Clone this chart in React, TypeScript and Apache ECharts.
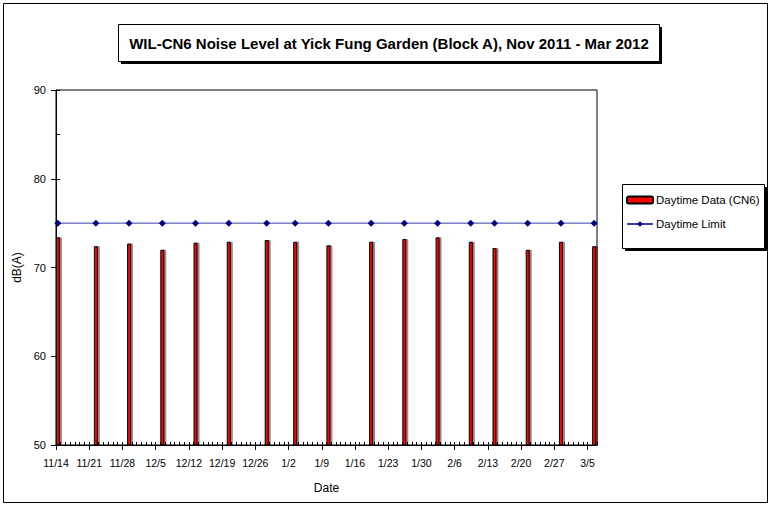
import React, { useEffect, useRef } from "react";
import * as echarts from "echarts";

const chartTitle = "WIL-CN6 Noise Level at Yick Fung Garden (Block A), Nov 2011 - Mar 2012";
const axisStartDate = "2011-11-14";
const axisEndDate = "2012-03-07";
const sampleDates = [
  "2011-11-14", "2011-11-22", "2011-11-29", "2011-12-06", "2011-12-13", "2011-12-20",
  "2011-12-28", "2012-01-03", "2012-01-10", "2012-01-19", "2012-01-26", "2012-02-02",
  "2012-02-09", "2012-02-14", "2012-02-21", "2012-02-28", "2012-03-06",
];
const daytimeData = [
  73.4, 72.4, 72.7, 72.0, 72.8, 72.9, 73.1, 72.9, 72.5, 72.9, 73.2, 73.4, 72.9, 72.2, 72.0, 72.9, 72.4,
];
const daytimeLimit = [75, 75, 75, 75, 75, 75, 75, 75, 75, 75, 75, 75, 75, 75, 75, 75, 75];
const yMin = 50;
const yMax = 90;
const yStep = 10;
const seriesNames = ["Daytime Data (CN6)", "Daytime Limit"];

const FONT = "'Liberation Sans', Arial, sans-serif";
const DAY = 86400000;
const startMs = Date.parse(axisStartDate + "T00:00:00Z");
const toDay = (d: string) => (Date.parse(d + "T00:00:00Z") - startMs) / DAY;
const fmtDay = (v: number) => {
  const t = new Date(startMs + v * DAY);
  return `${t.getUTCMonth() + 1}/${t.getUTCDate()}`;
};
const totalDays = toDay(axisEndDate);
const slotOffset = 0.4;

export default function App() {
  const ref = useRef<HTMLDivElement>(null);
  useEffect(() => {
    if (!ref.current) return;
    const chart = echarts.init(ref.current, null, { renderer: "svg" });
    const barData = sampleDates.map((d, i) => [toDay(d) + slotOffset, daytimeData[i]]);
    const limitData = sampleDates.map((d, i) => [toDay(d) + slotOffset, daytimeLimit[i]]);
    chart.setOption({
      animation: false,
      backgroundColor: "#ffffff",
      textStyle: { fontFamily: FONT, color: "#000" },
      grid: {
        left: 56, top: 90, right: 174, bottom: 63,
        show: true, borderColor: "#000", borderWidth: 1, backgroundColor: "transparent",
      },
      xAxis: [
        {
          type: "value", min: 0, max: totalDays, interval: 7,
          axisLine: { lineStyle: { color: "#000", width: 1 } },
          axisTick: { length: 5, lineStyle: { color: "#000" } },
          axisLabel: { formatter: fmtDay, color: "#000", fontSize: 10.5, margin: 12, fontFamily: FONT, showMaxLabel: false },
          splitLine: { show: false },
          name: "Date", nameLocation: "middle", nameGap: 37,
          nameTextStyle: { color: "#000", fontSize: 12, fontFamily: FONT },
        },
        {
          type: "value", min: 0, max: totalDays, interval: 1, position: "bottom",
          axisLine: { show: false },
          axisTick: { inside: true, length: 3, lineStyle: { color: "#000" } },
          axisLabel: { show: false },
          splitLine: { show: false },
        },
      ],
      yAxis: [
        {
          type: "value", min: yMin, max: yMax, interval: yStep,
          axisLine: { show: true, lineStyle: { color: "#000", width: 1 } },
          axisTick: { show: true, length: 5, lineStyle: { color: "#000" } },
          axisLabel: { color: "#000", fontSize: 11, margin: 10, fontFamily: FONT },
          splitLine: { show: false },
          name: "dB(A)", nameLocation: "middle", nameGap: 30, nameRotate: 90,
          nameTextStyle: { color: "#000", fontSize: 12, fontFamily: FONT },
        },
        {
          type: "value", min: yMin, max: yMax, interval: yStep / 2, position: "left",
          axisLine: { show: false },
          axisTick: { show: true, inside: true, length: 4, lineStyle: { color: "#000" } },
          axisLabel: { show: false },
          splitLine: { show: false },
        },
      ],
      legend: {
        data: seriesNames,
        orient: "vertical",
        left: 622, top: 184,
        padding: [10, 0, 18, 4],
        itemWidth: 26, itemHeight: 7, itemGap: 12,
        textStyle: { color: "#000", fontSize: 11.5, fontFamily: FONT, padding: [0, 0, 0, -2] },
      },
      graphic: [
        { type: "rect", z: 0, shape: { x: 3.5, y: 3.5, width: 764, height: 499 }, style: { fill: "none", stroke: "#000", lineWidth: 1 } },
        { type: "rect", z: 1, shape: { x: 121, y: 27, width: 541, height: 37 }, style: { fill: "#000" } },
        { type: "rect", z: 2, shape: { x: 118.5, y: 24.5, width: 541, height: 37 }, style: { fill: "#fff", stroke: "#000", lineWidth: 1 } },
        {
          type: "text", z: 3, x: 389, y: 43,
          style: { text: chartTitle, fill: "#000", font: `bold 15px ${FONT}`, textAlign: "center", textVerticalAlign: "middle" },
        },
        { type: "rect", z: 1, shape: { x: 625, y: 187, width: 142, height: 64 }, style: { fill: "#000" } },
        { type: "rect", z: 2, shape: { x: 622.5, y: 184.5, width: 142, height: 64 }, style: { fill: "#fff", stroke: "#000", lineWidth: 1 } },
      ],
      series: [
        {
          name: seriesNames[0], type: "bar", xAxisIndex: 0, yAxisIndex: 0,
          data: barData, barWidth: 4,
          itemStyle: { color: "#ff0000", borderColor: "#000", borderWidth: 1, shadowColor: "rgba(0,0,0,0.45)", shadowOffsetX: 2, shadowBlur: 0 },
        },
        {
          name: seriesNames[1], type: "line", xAxisIndex: 0, yAxisIndex: 0,
          data: limitData, symbol: "diamond", symbolSize: 7,
          itemStyle: { color: "#000080" },
          lineStyle: { color: "#3a3aaa", width: 1 },
        },
      ],
    });
    return () => chart.dispose();
  }, []);
  return (
    <div
      ref={ref}
      style={{ position: "absolute", left: 0, top: 0, width: 771, height: 508, background: "#fff" }}
    />
  );
}
